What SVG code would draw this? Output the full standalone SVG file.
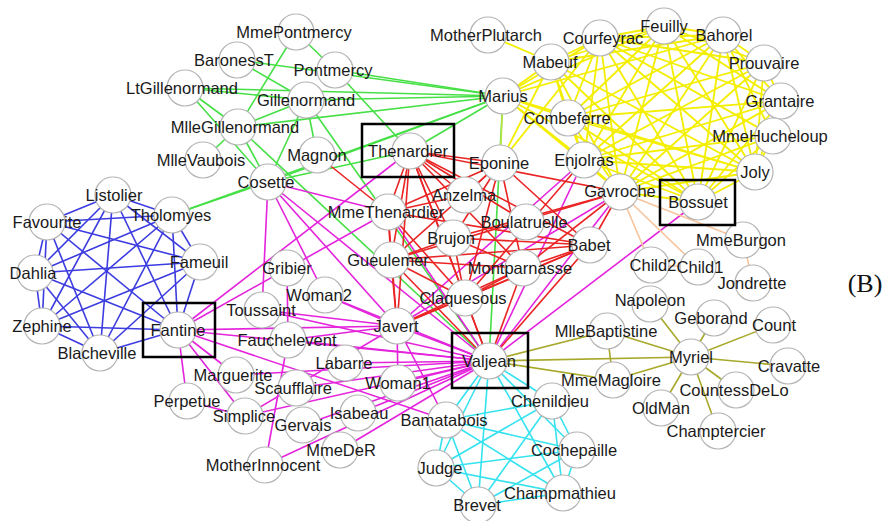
<svg xmlns="http://www.w3.org/2000/svg" width="886" height="521" viewBox="0 0 886 521">
<style>
line{stroke-width:1.6;fill:none}
.o{stroke:#a8a82a}.m{stroke:#e424dc}.r{stroke:#ea2424}.g{stroke:#46e046}.y{stroke:#f4ee00;stroke-width:1.8}.yg{stroke:#bce43c}.p{stroke:#f8c49c}.c{stroke:#34e2f0}.b{stroke:#3c3ce0}
circle{fill:#fff;stroke:#b4b4b4;stroke-width:1.2}
text{font-family:"Liberation Sans",Arial,sans-serif;font-size:16.5px;fill:#1a1a1a;text-anchor:middle}
.box{fill:none;stroke:#000;stroke-width:2.5}
</style>
<rect width="886" height="521" fill="#fff"/>
<g id="connectors">
<g id="olive">
<line class="o" x1="691" y1="357" x2="650" y2="304"/><line class="o" x1="691" y1="357" x2="607" y2="331"/><line class="o" x1="691" y1="357" x2="613" y2="380"/><line class="o" x1="607" y1="331" x2="613" y2="380"/><line class="o" x1="691" y1="357" x2="736" y2="390"/><line class="o" x1="691" y1="357" x2="714" y2="318"/><line class="o" x1="691" y1="357" x2="718" y2="431"/><line class="o" x1="691" y1="357" x2="788" y2="366"/><line class="o" x1="691" y1="357" x2="773" y2="325"/><line class="o" x1="691" y1="357" x2="661" y2="408"/><line class="o" x1="489" y1="361" x2="613" y2="380"/><line class="o" x1="489" y1="361" x2="607" y2="331"/><line class="o" x1="489" y1="361" x2="691" y2="357"/>
</g>
<g id="blue">
<line class="b" x1="172" y1="215" x2="113" y2="195"/><line class="b" x1="172" y1="215" x2="200" y2="262"/><line class="b" x1="172" y1="215" x2="100" y2="353"/><line class="b" x1="172" y1="215" x2="47" y2="222"/><line class="b" x1="172" y1="215" x2="35" y2="273"/><line class="b" x1="172" y1="215" x2="42" y2="326"/><line class="b" x1="172" y1="215" x2="178" y2="330"/>
<line class="b" x1="113" y1="195" x2="200" y2="262"/><line class="b" x1="113" y1="195" x2="100" y2="353"/><line class="b" x1="113" y1="195" x2="47" y2="222"/><line class="b" x1="113" y1="195" x2="35" y2="273"/><line class="b" x1="113" y1="195" x2="42" y2="326"/><line class="b" x1="113" y1="195" x2="178" y2="330"/>
<line class="b" x1="200" y1="262" x2="100" y2="353"/><line class="b" x1="200" y1="262" x2="47" y2="222"/><line class="b" x1="200" y1="262" x2="35" y2="273"/><line class="b" x1="200" y1="262" x2="42" y2="326"/><line class="b" x1="200" y1="262" x2="178" y2="330"/>
<line class="b" x1="100" y1="353" x2="47" y2="222"/><line class="b" x1="100" y1="353" x2="35" y2="273"/><line class="b" x1="100" y1="353" x2="42" y2="326"/><line class="b" x1="100" y1="353" x2="178" y2="330"/>
<line class="b" x1="47" y1="222" x2="35" y2="273"/><line class="b" x1="47" y1="222" x2="42" y2="326"/><line class="b" x1="47" y1="222" x2="178" y2="330"/>
<line class="b" x1="35" y1="273" x2="42" y2="326"/><line class="b" x1="35" y1="273" x2="178" y2="330"/><line class="b" x1="42" y1="326" x2="178" y2="330"/>
</g>
<g id="cyan">
<line class="c" x1="436" y1="468" x2="489" y2="361"/><line class="c" x1="436" y1="468" x2="446" y2="420"/><line class="c" x1="563" y1="493" x2="489" y2="361"/><line class="c" x1="563" y1="493" x2="436" y2="468"/><line class="c" x1="563" y1="493" x2="446" y2="420"/><line class="c" x1="478" y1="505" x2="436" y2="468"/><line class="c" x1="478" y1="505" x2="563" y2="493"/><line class="c" x1="478" y1="505" x2="489" y2="361"/><line class="c" x1="478" y1="505" x2="446" y2="420"/><line class="c" x1="552" y1="401" x2="436" y2="468"/><line class="c" x1="552" y1="401" x2="563" y2="493"/><line class="c" x1="552" y1="401" x2="478" y2="505"/><line class="c" x1="552" y1="401" x2="489" y2="361"/><line class="c" x1="552" y1="401" x2="446" y2="420"/><line class="c" x1="577" y1="450" x2="436" y2="468"/><line class="c" x1="577" y1="450" x2="563" y2="493"/><line class="c" x1="577" y1="450" x2="478" y2="505"/><line class="c" x1="577" y1="450" x2="552" y2="401"/><line class="c" x1="577" y1="450" x2="489" y2="361"/><line class="c" x1="577" y1="450" x2="446" y2="420"/><line class="c" x1="446" y1="420" x2="489" y2="361"/>
</g>
<g id="green">
<line class="g" x1="335" y1="70" x2="410" y2="151"/><line class="g" x1="306" y1="100" x2="268" y2="182"/><line class="g" x1="306" y1="100" x2="489" y2="361"/><line class="g" x1="317" y1="155" x2="306" y2="100"/><line class="g" x1="238" y1="127" x2="306" y2="100"/><line class="g" x1="238" y1="127" x2="268" y2="182"/><line class="g" x1="238" y1="127" x2="489" y2="361"/><line class="g" x1="296" y1="32" x2="238" y2="127"/><line class="g" x1="296" y1="32" x2="335" y2="70"/><line class="g" x1="203" y1="160" x2="238" y2="127"/><line class="g" x1="185" y1="88" x2="238" y2="127"/><line class="g" x1="185" y1="88" x2="306" y2="100"/><line class="g" x1="185" y1="88" x2="268" y2="182"/><line class="g" x1="503" y1="96" x2="238" y2="127"/><line class="g" x1="503" y1="96" x2="306" y2="100"/><line class="g" x1="503" y1="96" x2="335" y2="70"/><line class="g" x1="503" y1="96" x2="185" y2="88"/><line class="g" x1="503" y1="96" x2="268" y2="182"/><line class="g" x1="503" y1="96" x2="489" y2="361"/><line class="g" x1="503" y1="96" x2="172" y2="215"/><line class="g" x1="503" y1="96" x2="410" y2="151"/><line class="g" x1="237" y1="60" x2="306" y2="100"/><line class="g" x1="237" y1="60" x2="503" y2="96"/><line class="g" x1="268" y1="182" x2="172" y2="215"/><line class="g" x1="268" y1="182" x2="410" y2="151"/>
</g>
<g id="magenta">
<line class="m" x1="489" y1="361" x2="345" y2="363"/><line class="m" x1="489" y1="361" x2="236" y2="375"/><line class="m" x1="489" y1="361" x2="340" y2="450"/><line class="m" x1="489" y1="361" x2="358" y2="413"/><line class="m" x1="489" y1="361" x2="303" y2="425"/><line class="m" x1="236" y1="375" x2="178" y2="330"/><line class="m" x1="178" y1="330" x2="489" y2="361"/><line class="m" x1="388" y1="212" x2="178" y2="330"/><line class="m" x1="388" y1="212" x2="489" y2="361"/><line class="m" x1="410" y1="151" x2="178" y2="330"/><line class="m" x1="268" y1="182" x2="388" y2="212"/><line class="m" x1="268" y1="182" x2="489" y2="361"/><line class="m" x1="397" y1="326" x2="489" y2="361"/><line class="m" x1="397" y1="326" x2="178" y2="330"/><line class="m" x1="397" y1="326" x2="268" y2="182"/><line class="m" x1="288" y1="340" x2="489" y2="361"/><line class="m" x1="288" y1="340" x2="397" y2="326"/><line class="m" x1="446" y1="420" x2="178" y2="330"/><line class="m" x1="446" y1="420" x2="397" y2="326"/><line class="m" x1="187" y1="401" x2="178" y2="330"/><line class="m" x1="245" y1="416" x2="187" y2="401"/><line class="m" x1="245" y1="416" x2="489" y2="361"/><line class="m" x1="245" y1="416" x2="178" y2="330"/><line class="m" x1="245" y1="416" x2="397" y2="326"/><line class="m" x1="296" y1="388" x2="489" y2="361"/><line class="m" x1="398" y1="383" x2="489" y2="361"/><line class="m" x1="398" y1="383" x2="397" y2="326"/><line class="m" x1="325" y1="295" x2="489" y2="361"/><line class="m" x1="325" y1="295" x2="268" y2="182"/><line class="m" x1="325" y1="295" x2="397" y2="326"/><line class="m" x1="265" y1="465" x2="288" y2="340"/><line class="m" x1="265" y1="465" x2="489" y2="361"/><line class="m" x1="287" y1="268" x2="288" y2="340"/><line class="m" x1="262" y1="310" x2="268" y2="182"/><line class="m" x1="262" y1="310" x2="397" y2="326"/><line class="m" x1="262" y1="310" x2="489" y2="361"/><line class="m" x1="698" y1="202" x2="489" y2="361"/><line class="m" x1="584" y1="160" x2="489" y2="361"/><line class="m" x1="584" y1="160" x2="397" y2="326"/><line class="m" x1="620" y1="192" x2="397" y2="326"/><line class="m" x1="620" y1="192" x2="489" y2="361"/>
</g>
<g id="red">
<line class="r" x1="410" y1="151" x2="388" y2="212"/><line class="r" x1="500" y1="163" x2="388" y2="212"/><line class="r" x1="500" y1="163" x2="410" y2="151"/><line class="r" x1="465" y1="195" x2="500" y2="163"/><line class="r" x1="465" y1="195" x2="410" y2="151"/><line class="r" x1="465" y1="195" x2="388" y2="212"/><line class="r" x1="526" y1="222" x2="410" y2="151"/><line class="r" x1="410" y1="151" x2="397" y2="326"/><line class="r" x1="388" y1="212" x2="397" y2="326"/><line class="r" x1="410" y1="151" x2="489" y2="361"/><line class="r" x1="317" y1="155" x2="388" y2="212"/><line class="r" x1="620" y1="192" x2="410" y2="151"/>
<line class="r" x1="391" y1="260" x2="410" y2="151"/><line class="r" x1="391" y1="260" x2="489" y2="361"/><line class="r" x1="391" y1="260" x2="388" y2="212"/><line class="r" x1="391" y1="260" x2="397" y2="326"/><line class="r" x1="391" y1="260" x2="620" y2="192"/><line class="r" x1="391" y1="260" x2="500" y2="163"/>
<line class="r" x1="590" y1="245" x2="410" y2="151"/><line class="r" x1="590" y1="245" x2="391" y2="260"/><line class="r" x1="590" y1="245" x2="489" y2="361"/><line class="r" x1="590" y1="245" x2="388" y2="212"/><line class="r" x1="590" y1="245" x2="397" y2="326"/><line class="r" x1="590" y1="245" x2="620" y2="192"/><line class="r" x1="590" y1="245" x2="500" y2="163"/>
<line class="r" x1="465" y1="298" x2="410" y2="151"/><line class="r" x1="465" y1="298" x2="391" y2="260"/><line class="r" x1="465" y1="298" x2="590" y2="245"/><line class="r" x1="465" y1="298" x2="489" y2="361"/><line class="r" x1="465" y1="298" x2="388" y2="212"/><line class="r" x1="465" y1="298" x2="397" y2="326"/><line class="r" x1="465" y1="298" x2="500" y2="163"/><line class="r" x1="465" y1="298" x2="584" y2="160"/>
<line class="r" x1="523" y1="268" x2="397" y2="326"/><line class="r" x1="523" y1="268" x2="590" y2="245"/><line class="r" x1="523" y1="268" x2="391" y2="260"/><line class="r" x1="523" y1="268" x2="465" y2="298"/><line class="r" x1="523" y1="268" x2="489" y2="361"/><line class="r" x1="523" y1="268" x2="620" y2="192"/><line class="r" x1="523" y1="268" x2="500" y2="163"/><line class="r" x1="523" y1="268" x2="410" y2="151"/>
<line class="r" x1="453" y1="238" x2="590" y2="245"/><line class="r" x1="453" y1="238" x2="391" y2="260"/><line class="r" x1="453" y1="238" x2="410" y2="151"/><line class="r" x1="453" y1="238" x2="620" y2="192"/><line class="r" x1="453" y1="238" x2="500" y2="163"/><line class="r" x1="453" y1="238" x2="465" y2="298"/><line class="r" x1="453" y1="238" x2="523" y2="268"/>
</g>
<g id="yellow">
<line class="yg" x1="503" y1="96" x2="500" y2="163"/>
<line class="y" x1="503" y1="96" x2="620" y2="192"/><line class="y" x1="551" y1="62" x2="503" y2="96"/><line class="y" x1="551" y1="62" x2="500" y2="163"/><line class="y" x1="551" y1="62" x2="620" y2="192"/><line class="y" x1="584" y1="160" x2="503" y2="96"/><line class="y" x1="584" y1="160" x2="620" y2="192"/><line class="y" x1="584" y1="160" x2="551" y2="62"/><line class="y" x1="568" y1="118" x2="584" y2="160"/><line class="y" x1="568" y1="118" x2="503" y2="96"/><line class="y" x1="568" y1="118" x2="620" y2="192"/><line class="y" x1="568" y1="118" x2="551" y2="62"/>
<line class="y" x1="764" y1="63" x2="620" y2="192"/><line class="y" x1="764" y1="63" x2="584" y2="160"/><line class="y" x1="764" y1="63" x2="568" y2="118"/>
<line class="y" x1="664" y1="26" x2="620" y2="192"/><line class="y" x1="664" y1="26" x2="584" y2="160"/><line class="y" x1="664" y1="26" x2="764" y2="63"/><line class="y" x1="664" y1="26" x2="568" y2="118"/><line class="y" x1="664" y1="26" x2="551" y2="62"/><line class="y" x1="664" y1="26" x2="503" y2="96"/>
<line class="y" x1="600" y1="38" x2="503" y2="96"/><line class="y" x1="600" y1="38" x2="584" y2="160"/><line class="y" x1="600" y1="38" x2="568" y2="118"/><line class="y" x1="600" y1="38" x2="620" y2="192"/><line class="y" x1="600" y1="38" x2="551" y2="62"/><line class="y" x1="600" y1="38" x2="500" y2="163"/><line class="y" x1="600" y1="38" x2="664" y2="26"/><line class="y" x1="600" y1="38" x2="764" y2="63"/>
<line class="y" x1="723" y1="35" x2="568" y2="118"/><line class="y" x1="723" y1="35" x2="620" y2="192"/><line class="y" x1="723" y1="35" x2="600" y2="38"/><line class="y" x1="723" y1="35" x2="551" y2="62"/><line class="y" x1="723" y1="35" x2="584" y2="160"/><line class="y" x1="723" y1="35" x2="664" y2="26"/><line class="y" x1="723" y1="35" x2="764" y2="63"/><line class="y" x1="723" y1="35" x2="503" y2="96"/>
<line class="y" x1="698" y1="202" x2="503" y2="96"/><line class="y" x1="698" y1="202" x2="600" y2="38"/><line class="y" x1="698" y1="202" x2="620" y2="192"/><line class="y" x1="698" y1="202" x2="723" y2="35"/><line class="y" x1="698" y1="202" x2="584" y2="160"/><line class="y" x1="698" y1="202" x2="664" y2="26"/><line class="y" x1="698" y1="202" x2="764" y2="63"/><line class="y" x1="698" y1="202" x2="568" y2="118"/><line class="y" x1="698" y1="202" x2="551" y2="62"/>
<line class="y" x1="755" y1="172" x2="723" y2="35"/><line class="y" x1="755" y1="172" x2="698" y2="202"/><line class="y" x1="755" y1="172" x2="620" y2="192"/><line class="y" x1="755" y1="172" x2="600" y2="38"/><line class="y" x1="755" y1="172" x2="584" y2="160"/><line class="y" x1="755" y1="172" x2="664" y2="26"/><line class="y" x1="755" y1="172" x2="764" y2="63"/><line class="y" x1="755" y1="172" x2="568" y2="118"/><line class="y" x1="755" y1="172" x2="551" y2="62"/><line class="y" x1="755" y1="172" x2="503" y2="96"/>
<line class="y" x1="781" y1="101" x2="698" y2="202"/><line class="y" x1="781" y1="101" x2="584" y2="160"/><line class="y" x1="781" y1="101" x2="568" y2="118"/><line class="y" x1="781" y1="101" x2="600" y2="38"/><line class="y" x1="781" y1="101" x2="755" y2="172"/><line class="y" x1="781" y1="101" x2="620" y2="192"/><line class="y" x1="781" y1="101" x2="723" y2="35"/><line class="y" x1="781" y1="101" x2="664" y2="26"/><line class="y" x1="781" y1="101" x2="764" y2="63"/>
<line class="y" x1="488" y1="35" x2="551" y2="62"/>
<line class="y" x1="773" y1="136" x2="698" y2="202"/><line class="y" x1="773" y1="136" x2="755" y2="172"/><line class="y" x1="773" y1="136" x2="781" y2="101"/><line class="y" x1="773" y1="136" x2="723" y2="35"/><line class="y" x1="773" y1="136" x2="600" y2="38"/><line class="y" x1="773" y1="136" x2="620" y2="192"/><line class="y" x1="773" y1="136" x2="584" y2="160"/>
</g>
<g id="peach">
<line class="p" x1="620" y1="192" x2="743" y2="240"/><line class="p" x1="743" y1="240" x2="753" y2="283"/><line class="p" x1="620" y1="192" x2="698" y2="267"/><line class="p" x1="620" y1="192" x2="651" y2="265"/><line class="p" x1="698" y1="267" x2="651" y2="265"/>
</g>
</g>
<g id="nodes">
<g id="n-Myriel"><circle cx="691" cy="357" r="18"/><text x="691" y="363">Myriel</text></g>
<g id="n-Napoleon"><circle cx="650" cy="304" r="18"/><text x="650" y="306">Napoleon</text></g>
<g id="n-MlleBaptistine"><circle cx="607" cy="331" r="18"/><text x="606" y="337">MlleBaptistine</text></g>
<g id="n-MmeMagloire"><circle cx="613" cy="380" r="18"/><text x="611" y="386">MmeMagloire</text></g>
<g id="n-CountessDeLo"><circle cx="736" cy="390" r="18"/><text x="734" y="396">CountessDeLo</text></g>
<g id="n-Geborand"><circle cx="714" cy="318" r="18"/><text x="711" y="324">Geborand</text></g>
<g id="n-Champtercier"><circle cx="718" cy="431" r="18"/><text x="716" y="437">Champtercier</text></g>
<g id="n-Cravatte"><circle cx="788" cy="366" r="18"/><text x="789" y="372">Cravatte</text></g>
<g id="n-Count"><circle cx="773" cy="325" r="18"/><text x="774" y="331">Count</text></g>
<g id="n-OldMan"><circle cx="661" cy="408" r="18"/><text x="661" y="414">OldMan</text></g>
<g id="n-Labarre"><circle cx="345" cy="363" r="18"/><text x="344" y="369">Labarre</text></g>
<g id="n-Valjean"><circle cx="489" cy="361" r="18"/><text x="489" y="367">Valjean</text></g>
<g id="n-Marguerite"><circle cx="236" cy="375" r="18"/><text x="233" y="381">Marguerite</text></g>
<g id="n-MmeDeR"><circle cx="340" cy="450" r="18"/><text x="341" y="456">MmeDeR</text></g>
<g id="n-Isabeau"><circle cx="358" cy="413" r="18"/><text x="359" y="419">Isabeau</text></g>
<g id="n-Gervais"><circle cx="303" cy="425" r="18"/><text x="303" y="431">Gervais</text></g>
<g id="n-Tholomyes"><circle cx="172" cy="215" r="18"/><text x="171" y="221">Tholomyes</text></g>
<g id="n-Listolier"><circle cx="113" cy="195" r="18"/><text x="114" y="201">Listolier</text></g>
<g id="n-Fameuil"><circle cx="200" cy="262" r="18"/><text x="199" y="268">Fameuil</text></g>
<g id="n-Blacheville"><circle cx="100" cy="353" r="18"/><text x="97" y="359">Blacheville</text></g>
<g id="n-Favourite"><circle cx="47" cy="222" r="18"/><text x="47" y="228">Favourite</text></g>
<g id="n-Dahlia"><circle cx="35" cy="273" r="18"/><text x="33" y="279">Dahlia</text></g>
<g id="n-Zephine"><circle cx="42" cy="326" r="18"/><text x="42" y="332">Zephine</text></g>
<g id="n-Fantine"><circle cx="178" cy="330" r="18"/><text x="178" y="336">Fantine</text></g>
<g id="n-MmeThenardier"><circle cx="388" cy="212" r="18"/><text x="386" y="218">MmeThenardier</text></g>
<g id="n-Thenardier"><circle cx="410" cy="151" r="18"/><text x="408" y="157">Thenardier</text></g>
<g id="n-Cosette"><circle cx="268" cy="182" r="18"/><text x="266" y="188">Cosette</text></g>
<g id="n-Javert"><circle cx="397" cy="326" r="18"/><text x="396" y="332">Javert</text></g>
<g id="n-Fauchelevent"><circle cx="288" cy="340" r="18"/><text x="287" y="346">Fauchelevent</text></g>
<g id="n-Bamatabois"><circle cx="446" cy="420" r="18"/><text x="444" y="426">Bamatabois</text></g>
<g id="n-Perpetue"><circle cx="187" cy="401" r="18"/><text x="187" y="407">Perpetue</text></g>
<g id="n-Simplice"><circle cx="245" cy="416" r="18"/><text x="244" y="422">Simplice</text></g>
<g id="n-Scaufflaire"><circle cx="296" cy="388" r="18"/><text x="293" y="394">Scaufflaire</text></g>
<g id="n-Woman1"><circle cx="398" cy="383" r="18"/><text x="398" y="389">Woman1</text></g>
<g id="n-Judge"><circle cx="436" cy="468" r="18"/><text x="440" y="474">Judge</text></g>
<g id="n-Champmathieu"><circle cx="563" cy="493" r="18"/><text x="560" y="499">Champmathieu</text></g>
<g id="n-Brevet"><circle cx="478" cy="505" r="18"/><text x="477" y="511">Brevet</text></g>
<g id="n-Chenildieu"><circle cx="552" cy="401" r="18"/><text x="550" y="407">Chenildieu</text></g>
<g id="n-Cochepaille"><circle cx="577" cy="450" r="18"/><text x="574" y="456">Cochepaille</text></g>
<g id="n-Pontmercy"><circle cx="335" cy="70" r="18"/><text x="333" y="76">Pontmercy</text></g>
<g id="n-Boulatruelle"><circle cx="526" cy="222" r="18"/><text x="524" y="228">Boulatruelle</text></g>
<g id="n-Eponine"><circle cx="500" cy="163" r="18"/><text x="499" y="169">Eponine</text></g>
<g id="n-Anzelma"><circle cx="465" cy="195" r="18"/><text x="464" y="201">Anzelma</text></g>
<g id="n-Woman2"><circle cx="325" cy="295" r="18"/><text x="319" y="301">Woman2</text></g>
<g id="n-MotherInnocent"><circle cx="265" cy="465" r="18"/><text x="263" y="471">MotherInnocent</text></g>
<g id="n-Gribier"><circle cx="287" cy="268" r="18"/><text x="287" y="274">Gribier</text></g>
<g id="n-Jondrette"><circle cx="753" cy="283" r="18"/><text x="752" y="289">Jondrette</text></g>
<g id="n-MmeBurgon"><circle cx="743" cy="240" r="18"/><text x="741" y="246">MmeBurgon</text></g>
<g id="n-Gavroche"><circle cx="620" cy="192" r="18"/><text x="620" y="197">Gavroche</text></g>
<g id="n-Gillenormand"><circle cx="306" cy="100" r="18"/><text x="306" y="106">Gillenormand</text></g>
<g id="n-Magnon"><circle cx="317" cy="155" r="18"/><text x="317" y="161">Magnon</text></g>
<g id="n-MlleGillenormand"><circle cx="238" cy="127" r="18"/><text x="235" y="133">MlleGillenormand</text></g>
<g id="n-MmePontmercy"><circle cx="296" cy="32" r="18"/><text x="294" y="38">MmePontmercy</text></g>
<g id="n-MlleVaubois"><circle cx="203" cy="160" r="18"/><text x="201" y="166">MlleVaubois</text></g>
<g id="n-LtGillenormand"><circle cx="185" cy="88" r="18"/><text x="182" y="94">LtGillenormand</text></g>
<g id="n-Marius"><circle cx="503" cy="96" r="18"/><text x="503" y="102">Marius</text></g>
<g id="n-BaronessT"><circle cx="237" cy="60" r="18"/><text x="234" y="66">BaronessT</text></g>
<g id="n-Mabeuf"><circle cx="551" cy="62" r="18"/><text x="550" y="68">Mabeuf</text></g>
<g id="n-Enjolras"><circle cx="584" cy="160" r="18"/><text x="584" y="166">Enjolras</text></g>
<g id="n-Combeferre"><circle cx="568" cy="118" r="18"/><text x="567" y="124">Combeferre</text></g>
<g id="n-Prouvaire"><circle cx="764" cy="63" r="18"/><text x="764" y="69">Prouvaire</text></g>
<g id="n-Feuilly"><circle cx="664" cy="26" r="18"/><text x="664" y="32">Feuilly</text></g>
<g id="n-Courfeyrac"><circle cx="600" cy="38" r="18"/><text x="603" y="44">Courfeyrac</text></g>
<g id="n-Bahorel"><circle cx="723" cy="35" r="18"/><text x="724" y="41">Bahorel</text></g>
<g id="n-Bossuet"><circle cx="698" cy="202" r="18"/><text x="698" y="208">Bossuet</text></g>
<g id="n-Joly"><circle cx="755" cy="172" r="18"/><text x="755" y="178">Joly</text></g>
<g id="n-Grantaire"><circle cx="781" cy="101" r="18"/><text x="780" y="107">Grantaire</text></g>
<g id="n-MotherPlutarch"><circle cx="488" cy="35" r="18"/><text x="486" y="41">MotherPlutarch</text></g>
<g id="n-Gueulemer"><circle cx="391" cy="260" r="18"/><text x="388" y="266">Gueulemer</text></g>
<g id="n-Babet"><circle cx="590" cy="245" r="18"/><text x="589" y="251">Babet</text></g>
<g id="n-Claquesous"><circle cx="465" cy="298" r="18"/><text x="463" y="304">Claquesous</text></g>
<g id="n-Montparnasse"><circle cx="523" cy="268" r="18"/><text x="520" y="274">Montparnasse</text></g>
<g id="n-Toussaint"><circle cx="262" cy="310" r="18"/><text x="261" y="316">Toussaint</text></g>
<g id="n-Child1"><circle cx="698" cy="267" r="18"/><text x="700" y="273">Child1</text></g>
<g id="n-Child2"><circle cx="651" cy="265" r="18"/><text x="653" y="271">Child2</text></g>
<g id="n-Brujon"><circle cx="453" cy="238" r="18"/><text x="451" y="244">Brujon</text></g>
<g id="n-MmeHucheloup"><circle cx="773" cy="136" r="18"/><text x="770" y="142">MmeHucheloup</text></g>
</g>
<g id="highlights">
<rect class="box" x="362" y="124" width="92" height="53"/>
<rect class="box" x="143" y="303" width="72" height="54"/>
<rect class="box" x="452" y="333" width="76" height="55"/>
<rect class="box" x="660" y="180" width="75" height="45"/>
</g>
<text x="865" y="292" style="font-family:'Liberation Serif','Times New Roman',serif;font-size:26px;fill:#111">(B)</text>
</svg>
